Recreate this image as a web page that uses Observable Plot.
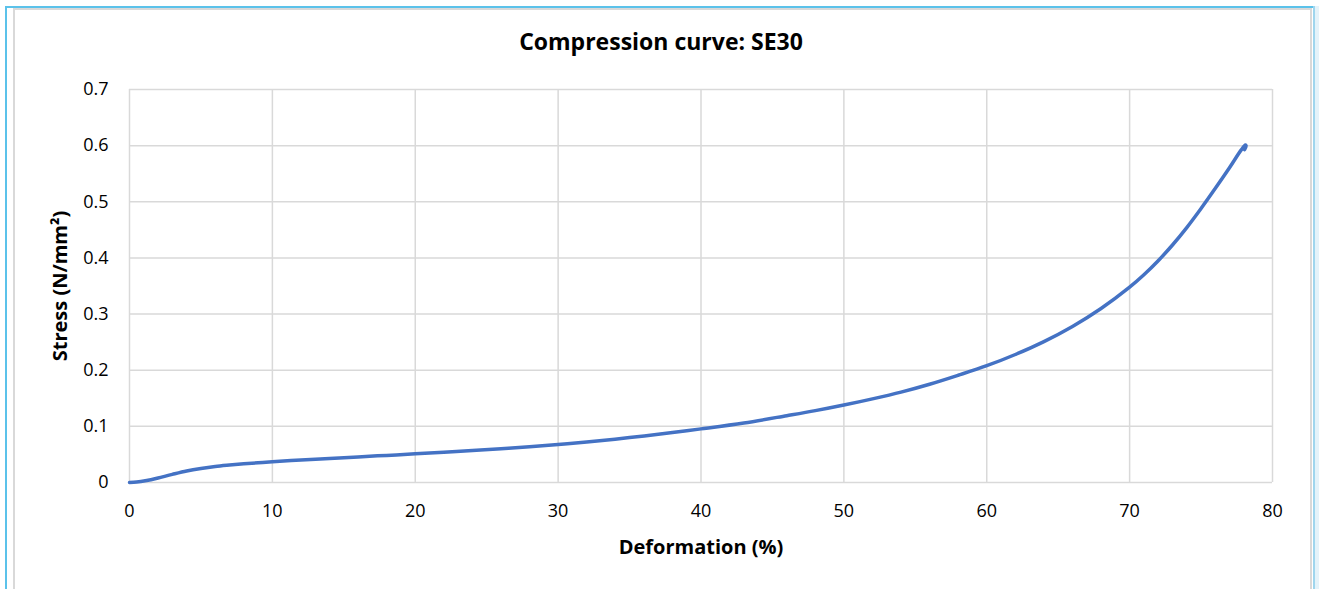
<!DOCTYPE html>
<html>
<head>
<meta charset="utf-8">
<script src="https://cdn.jsdelivr.net/npm/d3@7"></script>
<script src="https://cdn.jsdelivr.net/npm/@observablehq/plot@0.6"></script>
<style>
  html, body { margin: 0; padding: 0; background: #fff; }
  #wrap { position: relative; width: 1319px; height: 589px; overflow: hidden; background: #fff; }
  .b { position: absolute; }
  #title { position: absolute; left: 0; width: 1322px; top: 25px; text-align: center;
           font-family: "Open Sans", sans-serif; font-weight: 700; font-size: 23px; color: #000; line-height: 32px; }
  #chart { position: absolute; left: 0; top: 0; }
</style>
</head>
<body>
<div id="wrap">
  <div class="b" style="left:5px;top:6px;width:2px;height:583px;background:#5bc2ea"></div>
  <div class="b" style="left:5px;top:6px;width:1314px;height:2px;background:#5bc2ea"></div>
  <div class="b" style="left:13px;top:8px;width:1.5px;height:581px;background:#d9d9d9"></div>
  <div class="b" style="left:13px;top:8px;width:1299px;height:1.5px;background:#d9d9d9"></div>
  <div class="b" style="left:1310px;top:8px;width:1.5px;height:581px;background:#d9d9d9"></div>
  <div class="b" style="left:1313px;top:6px;width:6px;height:583px;background:#e4f3fa"></div>
  <div class="b" style="left:1313px;top:6px;width:1.5px;height:583px;background:#9fd6ee"></div>
  <div id="chart"></div>
  <div id="title">Compression curve: SE30</div>
</div>
<script>
const titleText = "Compression curve: SE30";
const xLabel = "Deformation (%)";
const yLabel = "Stress (N/mm²)";
const xTicks = [0, 10, 20, 30, 40, 50, 60, 70, 80];
const xTickLabels = ["0", "10", "20", "30", "40", "50", "60", "70", "80"];
const yTicks = [0, 0.1, 0.2, 0.3, 0.4, 0.5, 0.6, 0.7];
const yTickLabels = ["0", "0.1", "0.2", "0.3", "0.4", "0.5", "0.6", "0.7"];

const deformation = [0, 0.5, 1, 1.5, 2, 3, 4, 5, 6, 7, 8, 9, 10, 12, 14, 16, 18, 20, 22, 24, 26, 28, 30, 32, 35, 38, 40, 43, 46, 48, 50, 52, 54, 56, 58, 60, 62, 64, 66, 68, 70, 71, 72, 73, 74, 75, 76, 77, 77.8, 78.1, 78.15, 78.05];
const stress = [0, 0.001, 0.0025, 0.005, 0.008, 0.0145, 0.0205, 0.025, 0.0285, 0.031, 0.0332, 0.0352, 0.037, 0.040, 0.0428, 0.0456, 0.0483, 0.051, 0.054, 0.057, 0.0602, 0.0636, 0.0675, 0.0722, 0.080, 0.089, 0.0955, 0.106, 0.119, 0.128, 0.138, 0.149, 0.161, 0.175, 0.191, 0.208, 0.228, 0.251, 0.278, 0.310, 0.348, 0.370, 0.395, 0.423, 0.454, 0.488, 0.524, 0.561, 0.592, 0.601, 0.600, 0.593];

const data = deformation.map((d, i) => ({x: d, y: stress[i]}));
document.getElementById("title").textContent = titleText;

const gridStyle = {stroke: "#d9d9d9", strokeOpacity: 1, strokeWidth: 1.5};
const chart = Plot.plot({
  width: 1319,
  height: 589,
  marginLeft: 129,
  marginRight: 47,
  marginTop: 89,
  marginBottom: 107,
  x: {domain: [0, 80]},
  y: {domain: [0, 0.7]},
  style: {fontFamily: "'Open Sans', sans-serif", fontSize: "18px", color: "#000", background: "transparent", overflow: "visible"},
  marks: [
    Plot.gridX(xTicks, gridStyle),
    Plot.gridY(yTicks, gridStyle),
    Plot.axisX(xTicks, {tickSize: 0, tickPadding: 22, label: null, tickFormat: (d, i) => xTickLabels[i], fill: "#000"}),
    Plot.axisY(yTicks, {tickSize: 0, tickPadding: 21, label: null, tickFormat: (d, i) => yTickLabels[i], fill: "#000"}),
    Plot.text([xLabel], {frameAnchor: "bottom", dy: 65, text: d => d, fontWeight: "bold", fontSize: 20, lineAnchor: "middle", textAnchor: "middle", fill: "#000"}),
    Plot.text([yLabel], {frameAnchor: "left", dx: -69, rotate: -90, text: d => d, fontWeight: "bold", fontSize: 20, lineAnchor: "middle", textAnchor: "middle", fill: "#000"}),
    Plot.line(data, {x: "x", y: "y", stroke: "#4472C4", strokeWidth: 3.5, curve: "catmull-rom", strokeLinecap: "round", strokeLinejoin: "round"})
  ]
});
document.getElementById("chart").appendChild(chart);
</script>
</body>
</html>
